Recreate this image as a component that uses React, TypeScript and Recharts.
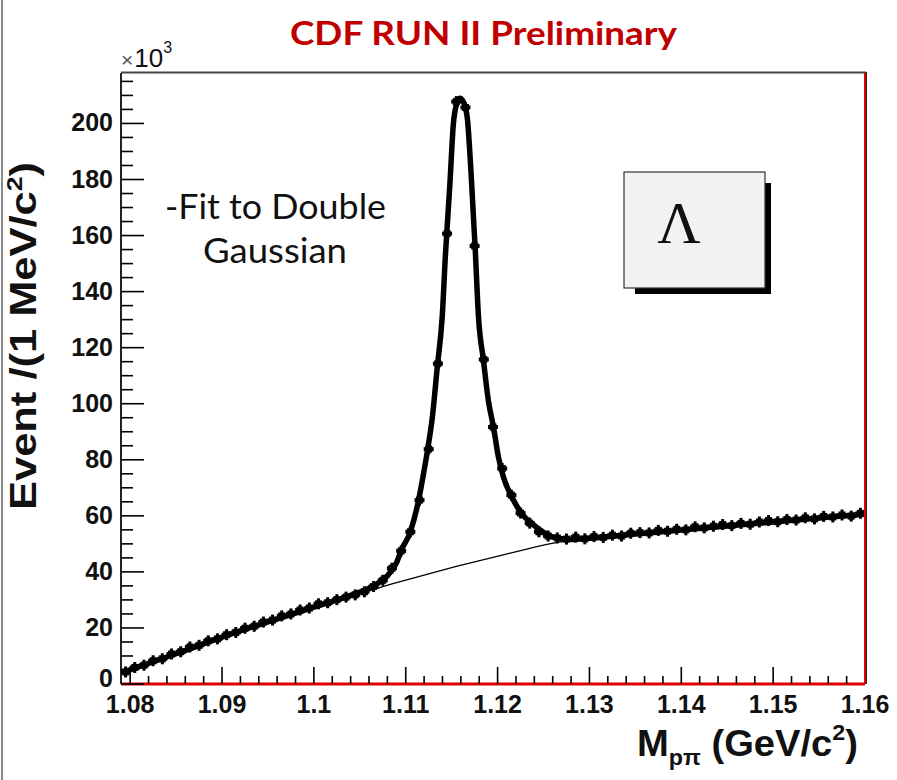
import { ComposedChart, Line, XAxis, YAxis } from 'recharts'

// bin centres (GeV/c^2), 1 MeV bins
const massBins = [
  1.0795, 1.0805, 1.0815, 1.0825, 1.0835, 1.0845, 1.0855, 1.0865, 1.0875, 1.0885,
  1.0895, 1.0905, 1.0915, 1.0925, 1.0935, 1.0945, 1.0955, 1.0965, 1.0975, 1.0985,
  1.0995, 1.1005, 1.1015, 1.1025, 1.1035, 1.1045, 1.1055, 1.1065, 1.1075, 1.1085,
  1.1095, 1.1105, 1.1115, 1.1125, 1.1135, 1.1145, 1.1155, 1.1165, 1.1175, 1.1185,
  1.1195, 1.1205, 1.1215, 1.1225, 1.1235, 1.1245, 1.1255, 1.1265, 1.1275, 1.1285,
  1.1295, 1.1305, 1.1315, 1.1325, 1.1335, 1.1345, 1.1355, 1.1365, 1.1375, 1.1385,
  1.1395, 1.1405, 1.1415, 1.1425, 1.1435, 1.1445, 1.1455, 1.1465, 1.1475, 1.1485,
  1.1495, 1.1505, 1.1515, 1.1525, 1.1535, 1.1545, 1.1555, 1.1565, 1.1575, 1.1585,
  1.1595,
]

// events per bin, x10^3
const events = [
  4.3, 5.9, 6.7, 8.3, 9.0, 10.7, 11.5, 13.2, 13.8, 15.4,
  16.1, 17.6, 18.4, 19.9, 20.6, 22.1, 22.8, 24.3, 25.0, 26.4,
  27.1, 28.6, 29.0, 30.1, 31.0, 31.8, 32.9, 34.8, 37.0, 41.3,
  47.5, 54.3, 65.6, 83.8, 114.3, 160.7, 207.8, 205.7, 156.3, 115.8,
  91.7, 76.9, 67.4, 61.0, 57.4, 54.3, 52.8, 52.1, 51.7, 52.4,
  51.8, 52.6, 52.3, 53.1, 52.8, 53.8, 54.0, 53.9, 54.8, 54.5,
  55.2, 55.0, 56.1, 55.7, 56.3, 56.9, 56.5, 57.3, 57.0, 57.8,
  58.3, 57.9, 58.7, 58.5, 59.3, 58.9, 59.8, 59.6, 60.3, 59.9,
  60.9,
]

// background component of the fit, x10^3
const background = [
  4.5, 5.7, 6.9, 8.1, 9.3, 10.5, 11.6, 12.8, 13.9, 15.1,
  16.2, 17.3, 18.4, 19.5, 20.6, 21.7, 22.8, 23.8, 24.9, 25.9,
  26.9, 27.9, 28.9, 29.9, 30.8, 31.7, 32.7, 33.7, 34.7, 35.7,
  36.6, 37.5, 38.4, 39.3, 40.2, 41.1, 42.0, 42.8, 43.6, 44.4,
  45.2, 46.0, 46.8, 47.6, 48.4, 49.2, 49.9, 50.5, 51.0, 51.4,
  51.7, 52.0, 52.3, 52.6, 52.9, 53.2, 53.5, 53.8, 54.1, 54.4,
  54.7, 55.0, 55.2, 55.5, 55.8, 56.1, 56.4, 56.7, 57.0, 57.3,
  57.5, 57.8, 58.1, 58.4, 58.7, 59.0, 59.3, 59.6, 59.8, 60.1,
  60.4,
]

// double gaussian + background fit
const fitMass = [
  1.0795, 1.085, 1.09, 1.095, 1.1, 1.103, 1.105, 1.106, 1.107, 1.108,
  1.109, 1.1095, 1.1105, 1.1114, 1.1118, 1.11235, 1.11289, 1.11343, 1.11397, 1.11432,
  1.1148, 1.11519, 1.1155, 1.1159, 1.1163, 1.1167, 1.1171, 1.11757, 1.11792, 1.11846,
  1.119, 1.11955, 1.12009, 1.12063, 1.12154, 1.12262, 1.12371, 1.12492, 1.126, 1.128,
  1.13, 1.135, 1.14, 1.145, 1.15, 1.155, 1.16,
]
const fitEvents = [
  4.5, 10.8, 16.7, 22.2, 27.4, 30.5, 32.8, 34.2, 36.0, 38.6,
  43.3, 47.6, 54.3, 65.6, 72.5, 83.0, 95.0, 113.0, 131.0, 153.0,
  178.0, 200.0, 206.5, 209.0, 207.5, 202.0, 183.0, 154.7, 131.0, 115.5,
  101.0, 91.7, 81.0, 73.9, 66.8, 60.8, 57.3, 54.3, 52.5, 51.6,
  52.0, 53.5, 54.9, 56.4, 57.8, 59.2, 60.6,
]

const xMajorTicks = [1.08, 1.09, 1.1, 1.11, 1.12, 1.13, 1.14, 1.15, 1.16]
const yMajorTicks = [0, 20, 40, 60, 80, 100, 120, 140, 160, 180, 200]

const W = 897
const H = 780
const PLOT_LEFT = 121
const PLOT_RIGHT = 865
const PLOT_TOP = 73
const PLOT_BOTTOM = 684
const AXIS_FONT = "'Liberation Sans', Arial, Helvetica, sans-serif"
const SLIDE_FONT = "Lato, 'Open Sans', sans-serif"

// minor ticks: 5 divisions on x, 4 on y
const xTicks: number[] = []
xMajorTicks.forEach((t, i) => {
  xTicks.push(t)
  const next = xMajorTicks[i + 1]
  if (next !== undefined) for (let k = 1; k < 5; k++) xTicks.push(Number((t + (k * (next - t)) / 5).toFixed(4)))
})
const yTicks: number[] = []
for (let v = 0; v <= 215; v += 5) yTicks.push(v)

const points = massBins.map((m, i) => ({ m, v: events[i] }))
const bgLine = massBins.map((m, i) => ({ m, v: background[i] }))
const fitLine = fitMass.map((m, i) => ({ m, v: fitEvents[i] }))

function XTick({ x, payload }: any) {
  const major = xMajorTicks.includes(payload.value)
  return <g>
    <line x1={x} x2={x} y1={PLOT_BOTTOM} y2={PLOT_BOTTOM - (major ? 17 : 8)} stroke="#000" strokeWidth={1.6} />
    {major && <text x={x} y={713} textAnchor="middle" fontFamily={AXIS_FONT} fontWeight="bold" fontSize={25} fill="#111">{payload.value}</text>}
  </g>
}

function YTick({ y, payload }: any) {
  const major = yMajorTicks.includes(payload.value)
  // the "0" label sits a little higher, clear of the x labels
  const base = payload.value === 0 ? y + 3 : y + 8
  return <g>
    <line x1={PLOT_LEFT} x2={PLOT_LEFT + (major ? 23 : 12)} y1={y} y2={y} stroke="#000" strokeWidth={1.6} />
    {major && <text x={113} y={base} textAnchor="end" fontFamily={AXIS_FONT} fontWeight="bold" fontSize={25} fill="#111">{payload.value}</text>}
  </g>
}

// filled marker with bin-width and error bars, like the ROOT plot
const renderMarker = (p: any) => {
  const { cx, cy, index } = p
  if (cx == null || cy == null) return <g key={`mk-${index}`} />
  return <g key={`mk-${index}`}>
    <rect x={cx - 5} y={cy - 2} width={10} height={4} fill="#000" />
    <rect x={cx - 1.5} y={cy - 5.5} width={3} height={11} fill="#000" />
    <rect x={cx - 3.5} y={cy - 3.5} width={7} height={7} fill="#000" />
  </g>
}

export default function App() {
  return <div style={{ position: 'absolute', left: 0, top: 0, width: W, height: H, background: '#fff' }}>
    <ComposedChart width={W} height={H} margin={{ top: PLOT_TOP, right: W - PLOT_RIGHT, bottom: 56, left: 61 }}>
      <XAxis type="number" dataKey="m" domain={[1.079, 1.16]} allowDataOverflow ticks={xTicks} interval={0} height={40}
        tickLine={false} tickSize={0} tick={<XTick />} axisLine={{ stroke: '#e00000', strokeWidth: 3 }} />
      <YAxis type="number" dataKey="v" domain={[0, 218]} allowDataOverflow ticks={yTicks} interval={0} width={60}
        tickLine={false} tickSize={0} tick={<YTick />} axisLine={{ stroke: '#222', strokeWidth: 2 }} />
      <Line data={bgLine} dataKey="v" type="linear" stroke="#000" strokeWidth={1.3} dot={false} activeDot={false} isAnimationActive={false} />
      <Line data={fitLine} dataKey="v" type="monotone" stroke="#000" strokeWidth={5.5} dot={false} activeDot={false} isAnimationActive={false} />
      <Line data={points} dataKey="v" stroke="none" dot={renderMarker} activeDot={false} isAnimationActive={false} />
    </ComposedChart>

    <svg width={W} height={H} style={{ position: 'absolute', left: 0, top: 0, pointerEvents: 'none' }}>
      <line x1={2} x2={2} y1={0} y2={H} stroke="#8a8a8a" strokeWidth={2} />
      {/* frame top / right */}
      <line x1={PLOT_LEFT} x2={PLOT_RIGHT + 1} y1={PLOT_TOP - 0.5} y2={PLOT_TOP - 0.5} stroke="#444" strokeWidth={2} />
      <line x1={PLOT_RIGHT} x2={PLOT_RIGHT} y1={PLOT_TOP} y2={PLOT_BOTTOM} stroke="#e00000" strokeWidth={2} />
      <line x1={PLOT_RIGHT + 1.5} x2={PLOT_RIGHT + 1.5} y1={PLOT_TOP - 1} y2={PLOT_BOTTOM} stroke="#222" strokeWidth={1} />

      <text x={483.5} y={45} textAnchor="middle" fontFamily={SLIDE_FONT} fontWeight="bold" fontSize={32}
        fill="#c00000" textLength={387} lengthAdjust="spacingAndGlyphs">CDF RUN II Preliminary</text>

      <text x={121} y={67} fontFamily={AXIS_FONT} fill="#111">
        <tspan fontSize={21} fill="#555">×</tspan>
        <tspan fontSize={26} dx={1}>10</tspan>
        <tspan fontSize={16} dy={-14}>3</tspan>
      </text>

      <text x={165} y={219} fontFamily={SLIDE_FONT} fontSize={34} fill="#111" textLength={221} lengthAdjust="spacingAndGlyphs">-Fit to Double</text>
      <text x={203} y={263} fontFamily={SLIDE_FONT} fontSize={34} fill="#111" textLength={144} lengthAdjust="spacingAndGlyphs">Gaussian</text>

      <rect x={635} y={183} width={136} height={111} fill="#000" />
      <rect x={624} y={172} width={141} height={116} fill="#f2f2f2" stroke="#333" strokeWidth={1.2} />
      <text x={679} y={243} textAnchor="middle" fontFamily="'Liberation Serif', 'Times New Roman', serif" fontSize={60} fill="#111">Λ</text>

      <text transform="translate(36,336) rotate(-90)" textAnchor="middle" fontFamily={AXIS_FONT} fontWeight="bold" fontSize={36} fill="#111"
        textLength={348} lengthAdjust="spacingAndGlyphs">
        Event /(1 MeV/c<tspan fontSize={22} dy={-14}>2</tspan><tspan dy={14}>)</tspan>
      </text>

      <text x={637} y={756} fontFamily={AXIS_FONT} fontWeight="bold" fontSize={36} fill="#111" textLength={221} lengthAdjust="spacingAndGlyphs">
        M<tspan fontSize={22} dy={9}>pπ</tspan><tspan dy={-9}> (GeV/c</tspan><tspan fontSize={22} dy={-16}>2</tspan><tspan dy={16}>)</tspan>
      </text>
    </svg>
  </div>
}
